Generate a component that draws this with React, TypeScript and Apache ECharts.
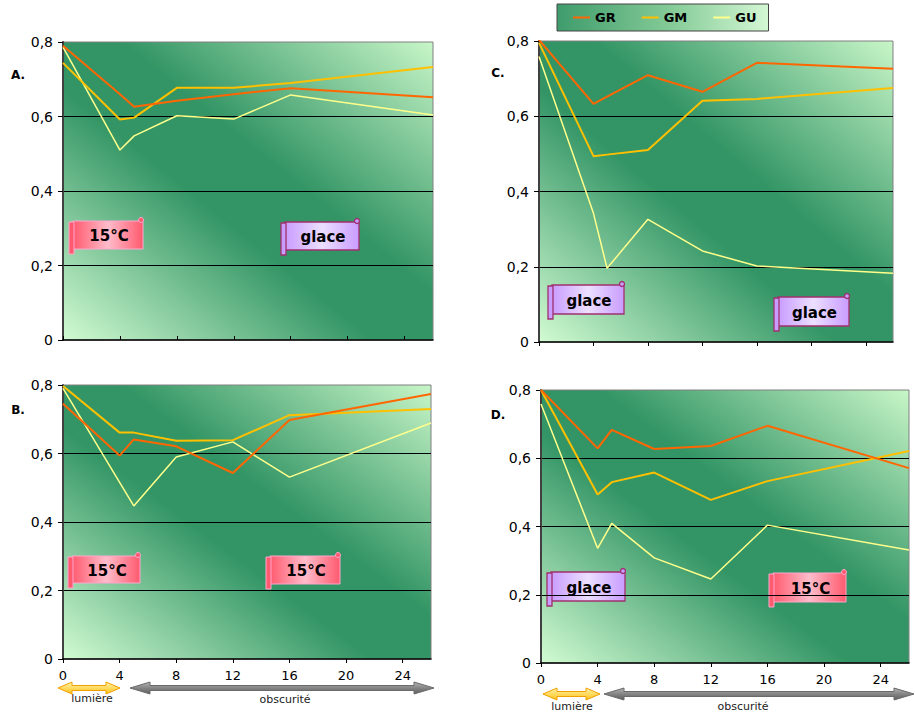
import React, { useEffect, useRef } from "react";
import * as echarts from "echarts";

// Hours (x values) of the measurements
const hours = [0, 4, 5, 8, 12, 16, 26];
const seriesNames = ["GR", "GM", "GU"];
const seriesColors = ["#ff6600", "#ffc000", "#ffff8c"];
const seriesWidths = [2, 2, 1.5];
const xTickLabels = [0, 4, 8, 12, 16, 20, 24];
const panelLetters = ["A.", "B.", "C.", "D."];

// Panel A
const aGR = [0.79, 0.66, 0.626, 0.642, 0.66, 0.676, 0.652];
const aGM = [0.744, 0.592, 0.597, 0.677, 0.677, 0.69, 0.733];
const aGU = [0.786, 0.51, 0.548, 0.602, 0.593, 0.658, 0.604];
// Panel B
const bGR = [0.745, 0.594, 0.641, 0.621, 0.543, 0.698, 0.774];
const bGM = [0.797, 0.661, 0.661, 0.637, 0.639, 0.712, 0.73];
const bGU = [0.79, 0.516, 0.447, 0.59, 0.634, 0.531, 0.689];
// Panel C
const cGR = [0.803, 0.633, 0.652, 0.709, 0.665, 0.742, 0.726];
const cGM = [0.795, 0.494, 0.498, 0.51, 0.641, 0.646, 0.675];
const cGU = [0.759, 0.342, 0.196, 0.326, 0.242, 0.202, 0.183];
// Panel D
const dGR = [0.8, 0.629, 0.683, 0.627, 0.636, 0.695, 0.571];
const dGM = [0.8, 0.494, 0.53, 0.558, 0.478, 0.533, 0.621];
const dGU = [0.759, 0.336, 0.409, 0.308, 0.246, 0.404, 0.331];

const panelData = [
  [aGR, aGM, aGU],
  [bGR, bGM, bGU],
  [cGR, cGM, cGU],
  [dGR, dGM, dGU],
];

// Scroll labels: [text, kind]
const scrollTexts = [
  ["15°C", "warm"],
  ["glace", "ice"],
  ["15°C", "warm"],
  ["15°C", "warm"],
  ["glace", "ice"],
  ["glace", "ice"],
  ["glace", "ice"],
  ["15°C", "warm"],
];

// Layout (pixels)
const grids = [
  { left: 63, top: 42, width: 370, height: 298 },
  { left: 63, top: 385, width: 368, height: 274 },
  { left: 539, top: 41, width: 354, height: 301 },
  { left: 541, top: 390, width: 368, height: 273 },
];
const showXLabels = [false, true, false, true];
const tickInside = [true, false, false, false];
const letterPos = [
  [11, 74.5],
  [11, 410],
  [491, 72.5],
  [491, 414.5],
];
const scrollBoxes = [
  [73, 221, 70, 28],
  [285, 222, 74, 28],
  [72, 556, 68, 27],
  [270, 556, 70, 28],
  [552, 285, 72, 29],
  [778, 297, 71, 29],
  [551, 572, 74, 29],
  [773, 573, 73, 29],
];

const FONT = "DejaVu Sans, Verdana, sans-serif";

function plotBg() {
  return new echarts.graphic.LinearGradient(0, 1, 1, 0, [
    { offset: 0, color: "#d2fbd2" },
    { offset: 0.42, color: "#339565" },
    { offset: 0.58, color: "#339565" },
    { offset: 1, color: "#c8f6c8" },
  ]);
}

function scroll(box: number[], text: string, kind: string) {
  const [x, y, w, h] = box;
  const pal =
    kind === "warm"
      ? { edge: "#ff5a6e", mid: "#ffbccb", stroke: "#ffa6cf", lw: 1 }
      : { edge: "#c99cff", mid: "#ecdfff", stroke: "#a0306e", lw: 1.3 };
  const grad = new echarts.graphic.LinearGradient(0, 0, 1, 0, [
    { offset: 0, color: pal.edge },
    { offset: 0.5, color: pal.mid },
    { offset: 1, color: pal.edge },
  ]);
  return {
    type: "group",
    z: 100,
    children: [
      {
        type: "rect",
        shape: { x, y, width: w, height: h },
        style: { fill: grad, stroke: pal.stroke, lineWidth: pal.lw },
      },
      {
        type: "rect",
        shape: { x: x - 4, y: y + 1, width: 5, height: h + 4 },
        style: { fill: pal.edge, stroke: pal.stroke, lineWidth: pal.lw },
      },
      {
        type: "circle",
        shape: { cx: x + w - 2, cy: y - 1, r: 2.5 },
        style: { fill: pal.edge, stroke: pal.stroke, lineWidth: pal.lw },
      },
      {
        type: "text",
        style: {
          text,
          x: x + w / 2 + 1,
          y: y + h / 2 + 1,
          align: "center",
          verticalAlign: "middle",
          fill: "#000",
          font: `bold 15px ${FONT}`,
        },
      },
    ],
  };
}

function doubleArrow(x1: number, x2: number, cy: number, hl: number, hh: number, sh: number, fill: any, stroke: string) {
  return {
    type: "polygon",
    z: 100,
    shape: {
      points: [
        [x1, cy],
        [x1 + hl, cy - hh],
        [x1 + hl, cy - sh],
        [x2 - hl, cy - sh],
        [x2 - hl, cy - hh],
        [x2, cy],
        [x2 - hl, cy + hh],
        [x2 - hl, cy + sh],
        [x1 + hl, cy + sh],
        [x1 + hl, cy + hh],
      ],
    },
    style: { fill, stroke, lineWidth: 1 },
  };
}

function yellowFill() {
  return new echarts.graphic.LinearGradient(0, 0, 0, 1, [
    { offset: 0, color: "#fff3a8" },
    { offset: 1, color: "#ffc21a" },
  ]);
}
function greyFill() {
  return new echarts.graphic.LinearGradient(0, 0, 0, 1, [
    { offset: 0, color: "#b4b4b4" },
    { offset: 0.5, color: "#858585" },
    { offset: 1, color: "#5e5e5e" },
  ]);
}

function textEl(text: string, x: number, y: number, font: string, fill = "#000") {
  return {
    type: "text",
    z: 100,
    style: { text, x, y, align: "center", verticalAlign: "middle", fill, font },
  };
}

export default function App() {
  const ref = useRef<HTMLDivElement>(null);

  useEffect(() => {
    if (!ref.current) return;
    const chart = echarts.init(ref.current, undefined, { renderer: "svg" });

    const xAxis = grids.map((_, i) => ({
      type: "value",
      gridIndex: i,
      min: 0,
      max: 26,
      interval: 4,
      axisLine: { show: true, lineStyle: { color: "#000", width: 1.5 } },
      axisTick: {
        show: true,
        inside: tickInside[i],
        length: 4,
        lineStyle: { color: "#000" },
        customValues: xTickLabels,
      },
      axisLabel: {
        show: showXLabels[i],
        color: "#000",
        fontSize: 13,
        fontFamily: FONT,
        margin: 10,
        customValues: xTickLabels,
      },
      splitLine: { show: false },
    }));

    const yAxis = grids.map((_, i) => ({
      type: "value",
      gridIndex: i,
      min: 0,
      max: 0.8,
      interval: 0.2,
      axisLine: { show: true, lineStyle: { color: "#404040", width: 2 } },
      axisTick: { show: true, length: 5, lineStyle: { color: "#000" } },
      axisLabel: {
        color: "#000",
        fontSize: 14,
        fontFamily: FONT,
        margin: 10,
        formatter: (v: number) => (v === 0 ? "0" : v.toFixed(1).replace(".", ",")),
      },
      splitLine: {
        show: true,
        showMinLine: false,
        showMaxLine: false,
        lineStyle: { color: "#000", width: 1 },
      },
    }));

    const series: any[] = [];
    panelData.forEach((rows, p) => {
      rows.forEach((vals, s) => {
        series.push({
          type: "line",
          name: seriesNames[s],
          xAxisIndex: p,
          yAxisIndex: p,
          data: hours.map((h, k) => [h, vals[k]]),
          symbol: "none",
          showSymbol: false,
          silent: true,
          lineStyle: { color: seriesColors[s], width: seriesWidths[s] },
          itemStyle: { color: seriesColors[s] },
          z: 10 - s,
        });
      });
    });

    const graphics: any[] = [];
    panelLetters.forEach((t, i) => {
      graphics.push(textEl(t, letterPos[i][0] + 7, letterPos[i][1], `bold 12px ${FONT}`));
    });
    scrollBoxes.forEach((b, i) => {
      graphics.push(scroll(b, scrollTexts[i][0], scrollTexts[i][1]));
    });
    // arrows under panel B
    graphics.push(doubleArrow(58, 120, 688, 14, 6, 2.5, yellowFill(), "#f0a000"));
    graphics.push(doubleArrow(130, 434, 688, 20, 6, 2.5, greyFill(), "#6a6a6a"));
    graphics.push(textEl("lumière", 92, 698, `11px ${FONT}`, "#222"));
    graphics.push(textEl("obscurité", 285, 699, `11px ${FONT}`, "#222"));
    // arrows under panel D
    graphics.push(doubleArrow(543, 600, 694, 14, 6, 2.5, yellowFill(), "#f0a000"));
    graphics.push(doubleArrow(604, 914, 694, 20, 6, 2.5, greyFill(), "#6a6a6a"));
    graphics.push(textEl("lumière", 572, 706, `11px ${FONT}`, "#222"));
    graphics.push(textEl("obscurité", 743, 706, `11px ${FONT}`, "#222"));

    chart.setOption({
      animation: false,
      backgroundColor: "#fff",
      legend: {
        data: seriesNames,
        left: 557,
        top: 4,
        orient: "horizontal",
        padding: [7, 12, 7, 16],
        itemGap: 26,
        itemWidth: 17,
        itemHeight: 2,
        icon: "rect",
        backgroundColor: new echarts.graphic.LinearGradient(0, 0, 1, 0, [
          { offset: 0, color: "#3f9c6c" },
          { offset: 0.55, color: "#86cc98" },
          { offset: 1, color: "#d4f7d4" },
        ]),
        borderColor: "#444",
        borderWidth: 1,
        borderRadius: 0,
        textStyle: { color: "#000", fontWeight: "bold", fontSize: 13, fontFamily: FONT },
        selectedMode: false,
      },
      grid: grids.map((g) => ({
        ...g,
        show: true,
        backgroundColor: plotBg(),
        borderColor: "#808080",
        borderWidth: 1,
        containLabel: false,
      })),
      xAxis,
      yAxis,
      series,
      graphic: graphics,
    });

    return () => chart.dispose();
  }, []);

  return (
    <div
      ref={ref}
      style={{ position: "fixed", left: 0, top: 0, width: 915, height: 714, background: "#fff" }}
    />
  );
}
